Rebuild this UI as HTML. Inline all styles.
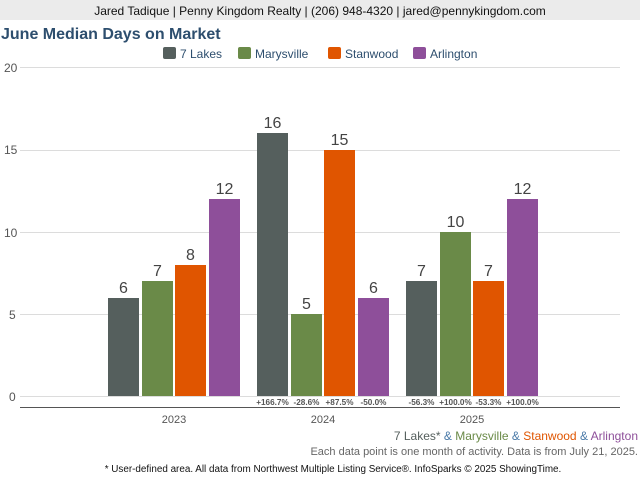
<!DOCTYPE html>
<html><head><meta charset="utf-8"><style>
body{margin:0;width:640px;height:480px;overflow:hidden;background:#fff;font-family:"Liberation Sans",sans-serif;}
</style></head><body>
<svg width="640" height="480" xmlns="http://www.w3.org/2000/svg" font-family="Liberation Sans, sans-serif">
<rect x="0" y="0" width="640" height="20" fill="#ebebeb"/>
<text x="320" y="15" text-anchor="middle" font-size="12" fill="#111">Jared Tadique | Penny Kingdom Realty | (206) 948-4320 | jared@pennykingdom.com</text>
<text x="1" y="39" font-size="16" font-weight="bold" fill="#2d4e6e">June Median Days on Market</text>
<g font-size="12" fill="#2d4e6e">
<rect x="163" y="47" width="13" height="12" rx="2" fill="#555f5d"/><text x="180" y="58">7 Lakes</text>
<rect x="238" y="47" width="13" height="12" rx="2" fill="#6a8a48"/><text x="255" y="58">Marysville</text>
<rect x="328" y="47" width="13" height="12" rx="2" fill="#e05500"/><text x="345" y="58">Stanwood</text>
<rect x="413" y="47" width="13" height="12" rx="2" fill="#8e4f9a"/><text x="430" y="58">Arlington</text>
</g>
<g stroke="#dcdcdc" stroke-width="1">
<line x1="20" y1="67.5" x2="620" y2="67.5"/><line x1="20" y1="150.5" x2="620" y2="150.5"/>
<line x1="20" y1="232.5" x2="620" y2="232.5"/><line x1="20" y1="314.5" x2="620" y2="314.5"/>
<line x1="20" y1="396.5" x2="620" y2="396.5"/>
</g>
<line x1="20" y1="407.5" x2="620" y2="407.5" stroke="#555" stroke-width="1"/>
<g font-size="12" fill="#555">
<text x="4" y="72">20</text><text x="4" y="154">15</text><text x="4" y="237">10</text><text x="9" y="319">5</text><text x="9" y="401">0</text>
</g>
<g>
<rect x="108" y="298" width="31" height="98" fill="#555f5d"/>
<rect x="142" y="281" width="31" height="115" fill="#6a8a48"/>
<rect x="175" y="265" width="31" height="131" fill="#e05500"/>
<rect x="209" y="199" width="31" height="197" fill="#8e4f9a"/>
<rect x="257" y="133" width="31" height="263" fill="#555f5d"/>
<rect x="291" y="314" width="31" height="82" fill="#6a8a48"/>
<rect x="324" y="150" width="31" height="246" fill="#e05500"/>
<rect x="358" y="298" width="31" height="98" fill="#8e4f9a"/>
<rect x="406" y="281" width="31" height="115" fill="#555f5d"/>
<rect x="440" y="232" width="31" height="164" fill="#6a8a48"/>
<rect x="473" y="281" width="31" height="115" fill="#e05500"/>
<rect x="507" y="199" width="31" height="197" fill="#8e4f9a"/>
</g>
<g font-size="16" fill="#444" text-anchor="middle">
<text x="123.5" y="293">6</text><text x="157.5" y="276">7</text><text x="190.5" y="260">8</text><text x="224.5" y="194">12</text>
<text x="272.5" y="128">16</text><text x="306.5" y="309">5</text><text x="339.5" y="145">15</text><text x="373.5" y="293">6</text>
<text x="421.5" y="276">7</text><text x="455.5" y="227">10</text><text x="488.5" y="276">7</text><text x="522.5" y="194">12</text>
</g>
<g font-size="8.2" fill="#555" text-anchor="middle" font-weight="bold">
<text x="272.5" y="405">+166.7%</text><text x="306.5" y="405">-28.6%</text><text x="339.5" y="405">+87.5%</text><text x="373.5" y="405">-50.0%</text>
<text x="421.5" y="405">-56.3%</text><text x="455.5" y="405">+100.0%</text><text x="488.5" y="405">-53.3%</text><text x="522.5" y="405">+100.0%</text>
</g>
<g font-size="11" fill="#555" text-anchor="middle">
<text x="174" y="423">2023</text><text x="323" y="423">2024</text><text x="472" y="423">2025</text>
</g>
<text x="638" y="440" text-anchor="end" font-size="12"><tspan fill="#555f5d">7 Lakes*</tspan><tspan fill="#4a7aa8"> &amp; </tspan><tspan fill="#6a8a48">Marysville</tspan><tspan fill="#4a7aa8"> &amp; </tspan><tspan fill="#e05500">Stanwood</tspan><tspan fill="#4a7aa8"> &amp; </tspan><tspan fill="#8e4f9a">Arlington</tspan></text>
<text x="638" y="455" text-anchor="end" font-size="11" fill="#666">Each data point is one month of activity. Data is from July 21, 2025.</text>
<text x="333" y="472" text-anchor="middle" font-size="9.9" fill="#111">* User-defined area. All data from Northwest Multiple Listing Service®. InfoSparks © 2025 ShowingTime.</text>
</svg>
</body></html>
